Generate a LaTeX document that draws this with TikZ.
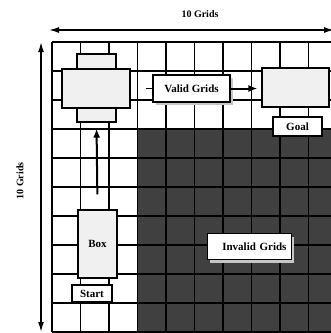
\documentclass[tikz,border=0pt]{standalone}
\usepackage{fontspec}
\setmainfont{Liberation Serif}
\usetikzlibrary{arrows.meta,positioning,calc,shadows}
\tikzset{
  Gshape/.style={draw, line width=1.1pt, fill=gray!12, inner sep=0pt,
                 font=\fontsize{11}{13}\selectfont\bfseries},
  Gtag/.style={draw, line width=1.1pt, fill=white, inner sep=0pt,
               font=\fontsize{11}{13}\selectfont\bfseries},
  Gshadow/.style={drop shadow={shadow xshift=2.5pt, shadow yshift=-3pt,
                  fill=gray!45, opacity=1}},
  Garr/.style={-{Latex[length=9pt,width=7pt]}, line width=2pt},
  Gdim/.style={{Latex[length=10pt,width=6pt]}-{Latex[length=10pt,width=6pt]},
               line width=1.5pt},
  Glab/.style={font=\fontsize{10}{12}\selectfont\bfseries}
}

\begin{document}
\begin{tikzpicture}[x=1pt, y=-1pt]
  \useasboundingbox (0,0) rectangle (331,333);

  % invalid region and grid
  \fill[black!75] (137.5,129) rectangle (337,332);
  \foreach \i in {0,...,10}
    \draw[line width=1.2pt] ({52+28.5*\i},42) -- ({52+28.5*\i},332);
  \foreach \j in {0,...,10}
    \draw[line width=1.2pt] (52,{42+29*\j}) -- (337,{42+29*\j});

  % size arrows
  \coordinate (wl) at (49,30);
  \coordinate (wr) at (334,30);
  \coordinate (ht) at (41,42);
  \coordinate (hb) at (41,332);
  \node[Glab] (wlab) at (200,14) {10 Grids};
  \node[Glab, rotate=90] (hlab) at (20,181) {10 Grids};
  \draw[Gdim] (wl) -- (wr);
  \draw[Gdim] (ht) -- (hb);

  % robot positions
  \node[Gshape, minimum width=39pt, minimum height=68pt] (sv) at (96.5,88) {};
  \node[Gshape, minimum width=68pt, minimum height=39pt] (sh) at (96,88.5) {};
  \node[Gshape, minimum width=67pt, minimum height=39pt] (g) at (295.5,87.5) {};
  \node[Gshape, minimum width=39pt, minimum height=68pt] (box) at (97.5,244) {Box};

  % labels
  \node[Gtag, Gshadow, minimum width=77pt, minimum height=27pt] (valid)
    at (191.5,88.5) {Valid Grids};
  \node[Gtag, minimum width=49pt, minimum height=19pt] (goal)
    at (297.5,126.5) {Goal};
  \node[Gtag, minimum width=40pt, minimum height=17pt] (start)
    at (92,293.5) {Start};
  \node[Gtag, Gshadow, text width=74pt, align=right, inner xsep=5pt,
        minimum height=26pt] (invalid) at (249.5,246.5) {Invalid Grids};

  \draw[Garr, shorten <=15pt, shorten >=6pt] (box.north) -- (sv.south);
  \draw[line width=1.2pt, shorten <=15pt] (sh.east) -- (valid.west);
  \draw[Garr, shorten >=4pt] (valid.east) -- (valid.east -| g.west);
\end{tikzpicture}
\end{document}
